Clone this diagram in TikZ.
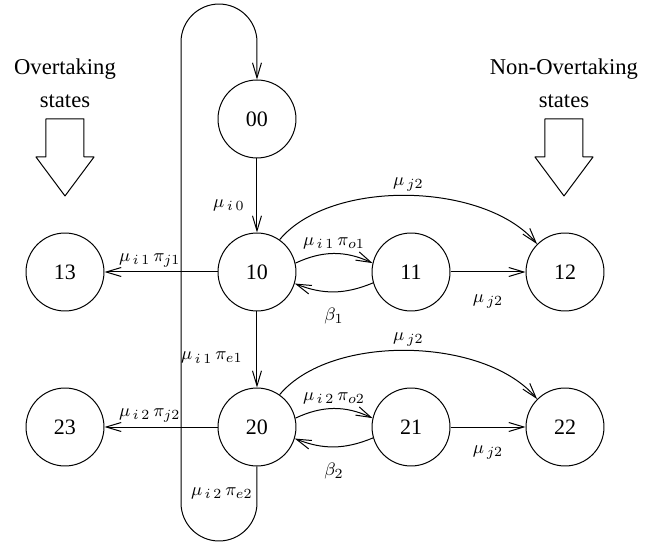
\documentclass[tikz,border=0pt]{standalone}
\usepackage[no-math]{fontspec}
\setmainfont{Liberation Serif}
\usetikzlibrary{arrows.meta}
\tikzset{
  state/.style={circle,draw,minimum size=1.37cm,inner sep=0pt,font=\fontsize{11}{13}\selectfont},
  trans/.style={-{Straight Barb[length=7.5pt,width=4.5pt]}},
  lbl/.style={font=\fontsize{9.5}{11}\selectfont,inner sep=1pt},
  heading/.style={align=center,font=\fontsize{11.3}{16.5}\selectfont}
}
\begin{document}
\begin{tikzpicture}[line width=.5pt,line join=round]
  \useasboundingbox (0,0) rectangle (11.616,9.560);
  % states
  \node[state] (s00) at (4.516,7.469) {00};
  \node[state] (s13) at (1.142,4.780) {13};
  \node[state] (s10) at (4.516,4.780) {10};
  \node[state] (s11) at (7.223,4.780) {11};
  \node[state] (s12) at (9.929,4.780) {12};
  \node[state] (s23) at (1.142,2.056) {23};
  \node[state] (s20) at (4.516,2.056) {20};
  \node[state] (s21) at (7.223,2.056) {21};
  \node[state] (s22) at (9.929,2.056) {22};
  \coordinate (loopbot) at (3.181,0.053);
  \coordinate (looptop) at (3.181,9.489);
  % headings with block arrows
  \node[heading] (otk) at (1.142,8.09) {Overtaking\\states};
  \node[heading] (notk) at (9.911,8.09) {Non-Overtaking\\states};
  \foreach \x in {1.142,9.911}
    \draw (\x,7.469) ++(-.334,0) -- ++(.668,0) -- ++(0,-.668) -- ++(.176,0)
      -- ++(-.51,-.685) -- ++(-.51,.685) -- ++(.176,0) -- cycle;
  % transitions
  \draw[trans] (s00) -- node[lbl,left=5pt,pos=.63] {$\mu_{\,i\,0}$} (s10);
  \draw[trans] (s10) -- node[lbl,above=1pt,pos=.6] {$\mu_{\,i\,1}\,\pi_{j1}$} (s13);
  \draw[trans] (s10) -- node[lbl,left=6pt,pos=.61] {$\mu_{\,i\,1}\,\pi_{e1}$} (s20);
  \draw[trans] (s10.13) to[bend left=25] node[lbl,above=1pt] {$\mu_{\,i\,1}\,\pi_{o1}$} (s11.167);
  \draw[trans] (s11.196) to[bend left=22] node[lbl,below=7pt] {$\beta_1$} (s10.-17);
  \draw[trans] (s10.55) to[out=50,in=130,looseness=.8] node[lbl,above=1pt] {$\mu_{\,j2}$} (s12.135);
  \draw[trans] (s11) -- node[lbl,below=10pt] {$\mu_{\,j2}$} (s12);
  \draw[trans] (s20) -- node[lbl,above=1pt,pos=.6] {$\mu_{\,i\,2}\,\pi_{j2}$} (s23);
  \draw[trans] (s20.13) to[bend left=25] node[lbl,above=1pt] {$\mu_{\,i\,2}\,\pi_{o2}$} (s21.167);
  \draw[trans] (s21.196) to[bend left=22] node[lbl,below=7pt] {$\beta_2$} (s20.-17);
  \draw[trans] (s20.55) to[out=50,in=130,looseness=.8] node[lbl,above=1pt] {$\mu_{\,j2}$} (s22.135);
  \draw[trans] (s21) -- node[lbl,below=8pt] {$\mu_{\,j2}$} (s22);
  \draw[trans,rounded corners=.668cm] (s20) |- node[lbl,left=1pt,pos=.18] {$\mu_{\,i\,2}\,\pi_{e2}$} (loopbot)
    -- (looptop) -| (s00);
\end{tikzpicture}
\end{document}
